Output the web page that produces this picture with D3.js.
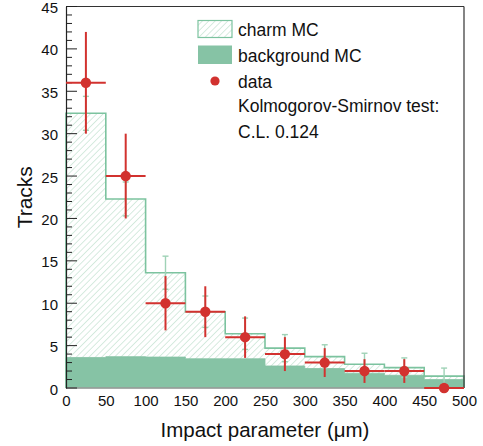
<!DOCTYPE html>
<html><head><meta charset="utf-8">
<script src="https://cdn.jsdelivr.net/npm/d3@7"></script>
<style>body{margin:0;background:#fff}svg{display:block}text{font-family:"Liberation Sans",Arial,sans-serif;fill:#111}</style>
</head><body><svg id="c" width="483" height="446"></svg>
<script>
const binLow = [0,50,100,150,200,250,300,350,400,450];
const binWidth = 50;
const charmTotal = [32.4,22.3,13.6,9.0,6.4,4.7,3.7,2.8,2.4,1.4];
const background = [3.6,3.7,3.65,3.45,3.45,2.6,2.3,1.75,1.5,1.0];
const mcErr = [2.0,2.0,1.95,1.85,1.85,1.6,1.4,1.3,1.15,0.95];
const dataVals = [36,25,10,9,6,4,3,2,2,0];
const dataErr = [6,5,3.2,3,2.45,2,1.7,1.4,1.4,0];
const xTicks = [0,50,100,150,200,250,300,350,400,450,500];
const yTicks = [0,5,10,15,20,25,30,35,40,45];
const legendLabels = ["charm MC","background MC","data","Kolmogorov-Smirnov test:","C.L. 0.124"];

const svg = d3.select("#c");
const x = d3.scaleLinear().domain([0,500]).range([66,464]);
const y = d3.scaleLinear().domain([0,45]).range([388,6.5]);
const green = "#86c3a5", greenLine = "#7cc39f", hatchCol = "#b5dbc6", red = "#d2322f";

const defs = svg.append("defs");
const pat = defs.append("pattern").attr("id","hatch").attr("patternUnits","userSpaceOnUse")
  .attr("width",4.5).attr("height",4.5).attr("patternTransform","rotate(45)");
pat.append("line").attr("x1",0).attr("y1",0).attr("x2",0).attr("y2",4.5)
  .attr("stroke",hatchCol).attr("stroke-width",1.1);

const bins = binLow.map((b,i)=>({x0:b,x1:b+binWidth,c:charmTotal[i],bg:background[i],me:mcErr[i],d:dataVals[i],de:dataErr[i]}));

function stepPath(vals){
  let p = `M${x(0)},${y(0)}`;
  bins.forEach((b,i)=>{ p += `L${x(b.x0)},${y(vals[i])}L${x(b.x1)},${y(vals[i])}`; });
  p += `L${x(500)},${y(0)}`;
  return p;
}
svg.append("path").attr("d",stepPath(charmTotal)+"Z").attr("fill","url(#hatch)");
svg.append("path").attr("d",stepPath(background)+"Z").attr("fill",green).attr("stroke",green).attr("stroke-width",0.8);
svg.append("path").attr("d",stepPath(charmTotal)).attr("fill","none").attr("stroke",greenLine).attr("stroke-width",1.6);

const mcg = svg.append("g").attr("stroke","#9fd2b6").attr("stroke-width",1.4);
bins.forEach(b=>{
  const cx = x((b.x0+b.x1)/2);
  mcg.append("line").attr("x1",cx).attr("x2",cx).attr("y1",y(b.c+b.me)).attr("y2",y(b.c-b.me));
  [b.c+b.me,b.c-b.me].forEach(v=>mcg.append("line").attr("x1",cx-3).attr("x2",cx+3).attr("y1",y(v)).attr("y2",y(v)));
});

svg.append("line").attr("x1",x(0)).attr("x2",x(500)).attr("y1",y(45)).attr("y2",y(45)).attr("stroke","#333").attr("stroke-width",1.2);
svg.append("line").attr("x1",x(500)).attr("x2",x(500)).attr("y1",y(45)).attr("y2",y(0)).attr("stroke","#333").attr("stroke-width",1.2);
svg.append("line").attr("x1",x(0)).attr("x2",x(500)).attr("y1",y(0)).attr("y2",y(0)).attr("stroke","#999").attr("stroke-width",1.5);

const yAxis = d3.axisLeft(y).tickValues(yTicks).tickSize(0).tickPadding(8);
const ya = svg.append("g").attr("transform",`translate(${x(0)},0)`).call(yAxis);
ya.select(".domain").attr("stroke","#222").attr("stroke-width",1.2);
ya.selectAll("text").attr("font-size",15).attr("fill","#111").attr("dy","0.4em").style("font-family","Liberation Sans, Arial, sans-serif");
const minor = d3.range(0,46,1);
svg.append("g").selectAll("line").data(minor).join("line")
  .attr("x1",x(0)).attr("x2",d=>x(0)+(d%5===0?11:6)).attr("y1",d=>y(d)).attr("y2",d=>y(d))
  .attr("stroke","#222").attr("stroke-width",1);

const xAxis = d3.axisBottom(x).tickValues(xTicks).tickSize(0).tickPadding(7).tickFormat(d3.format("d"));
const xa = svg.append("g").attr("transform",`translate(0,${y(0)})`).call(xAxis);
xa.select(".domain").remove();
xa.selectAll("text").attr("font-size",15).attr("fill","#111").style("font-family","Liberation Sans, Arial, sans-serif");

const dg = svg.append("g").attr("stroke",red).attr("stroke-width",2);
bins.forEach(b=>{
  const cx = x((b.x0+b.x1)/2);
  dg.append("line").attr("x1",x(b.x0)).attr("x2",x(b.x1)).attr("y1",y(b.d)).attr("y2",y(b.d));
  if (b.de>0) dg.append("line").attr("x1",cx).attr("x2",cx).attr("y1",y(b.d+b.de)).attr("y2",y(b.d-b.de));
});
svg.append("g").selectAll("circle").data(bins).join("circle")
  .attr("cx",b=>x((b.x0+b.x1)/2)).attr("cy",b=>y(b.d)).attr("r",5.2).attr("fill",red);

svg.append("text").attr("x",(x(0)+x(500))/2).attr("y",437).attr("text-anchor","middle").attr("font-size",20.5).text("Impact parameter (\u03bcm)");
svg.append("text").attr("transform",`translate(32,${(y(0)+y(45))/2}) rotate(-90)`).attr("text-anchor","middle").attr("font-size",21).text("Tracks");

const lg = svg.append("g");
lg.append("rect").attr("x",198).attr("y",20.5).attr("width",34).attr("height",17).attr("fill","url(#hatch)").attr("stroke",greenLine).attr("stroke-width",1.2);
lg.append("rect").attr("x",198).attr("y",45.5).attr("width",34).attr("height",18.5).attr("fill",green);
lg.append("circle").attr("cx",215).attr("cy",81).attr("r",4.6).attr("fill",red);
const ly = [36,61.5,87.5,111.5,137.5];
legendLabels.forEach((t,i)=>lg.append("text").attr("x",238).attr("y",ly[i]).attr("font-size",17.5).text(t));
</script></body></html>
